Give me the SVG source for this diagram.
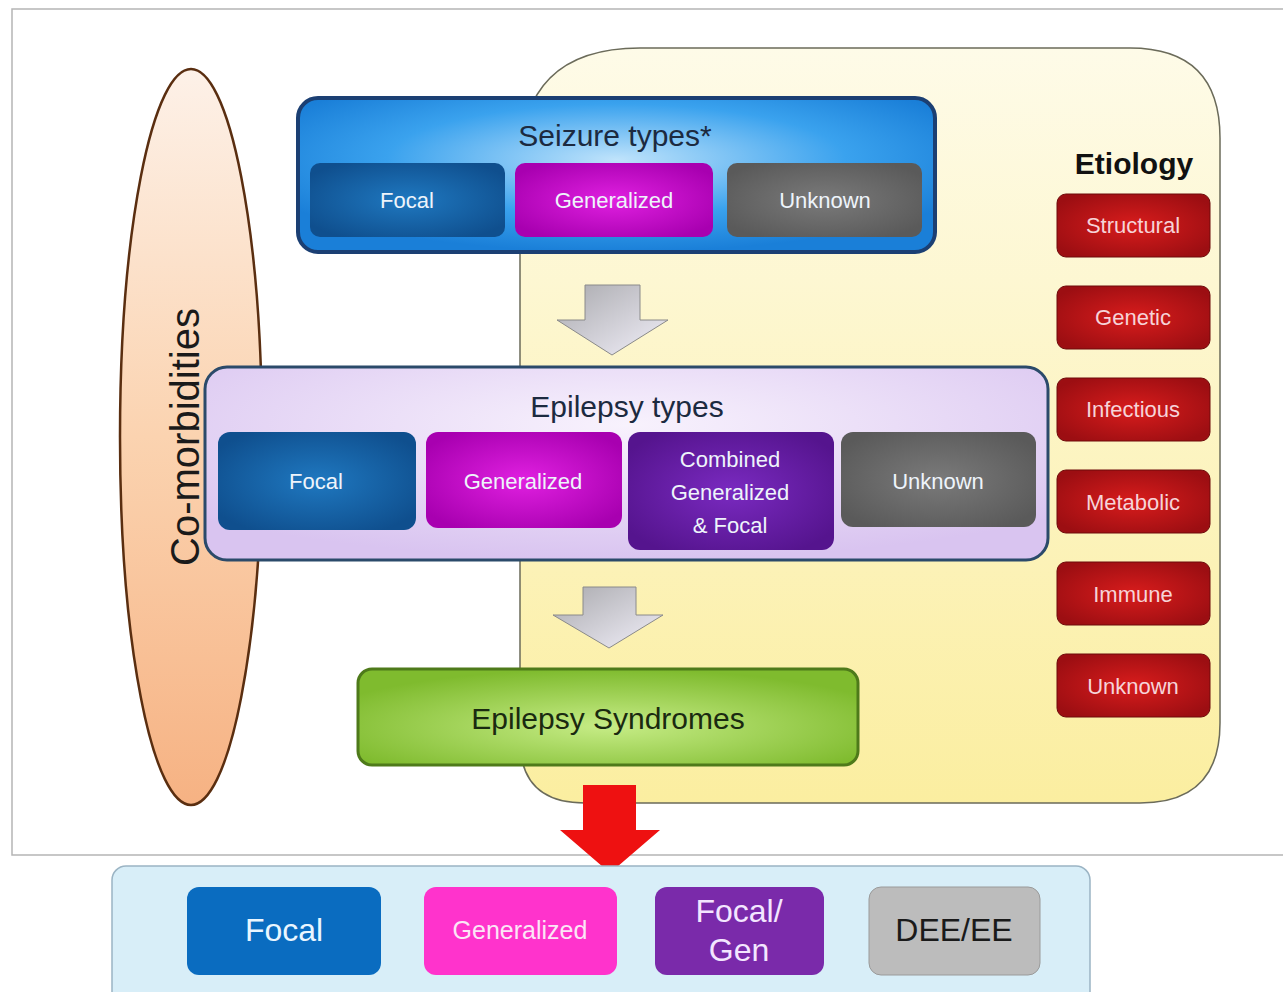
<svg xmlns="http://www.w3.org/2000/svg" width="1283" height="992" viewBox="0 0 1283 992">
<style>
text{font-family:"Liberation Sans",Arial,sans-serif;text-anchor:middle;dominant-baseline:central}
.w{fill:#eef4fb;font-size:22px}
.p{fill:#f6d3d8;font-size:22px}
.t{fill:#1c2a40;font-size:30px}
</style>
<defs>
<linearGradient id="gYel" x1="0" y1="0" x2="0" y2="1"><stop offset="0" stop-color="#fefbe8"/><stop offset="1" stop-color="#fbeea0"/></linearGradient>
<linearGradient id="gPeach" x1="0" y1="0" x2="0" y2="1"><stop offset="0" stop-color="#fdf1e8"/><stop offset="0.5" stop-color="#fbd3b0"/><stop offset="1" stop-color="#f6b283"/></linearGradient>
<radialGradient id="gBlueBig" cx="0.5" cy="0.4" r="0.6"><stop offset="0" stop-color="#bfe3fb"/><stop offset="0.6" stop-color="#3aa2ee"/><stop offset="1" stop-color="#1a7fd8"/></radialGradient>
<radialGradient id="gLav" cx="0.5" cy="0.3" r="0.7"><stop offset="0" stop-color="#f8f2fd"/><stop offset="1" stop-color="#d9c4f0"/></radialGradient>
<radialGradient id="gFocal" cx="0.5" cy="0.5" r="0.6"><stop offset="0" stop-color="#1f78c0"/><stop offset="1" stop-color="#0f4f8e"/></radialGradient>
<radialGradient id="gGen" cx="0.5" cy="0.5" r="0.6"><stop offset="0" stop-color="#e020e0"/><stop offset="1" stop-color="#a800b0"/></radialGradient>
<radialGradient id="gUnk" cx="0.5" cy="0.5" r="0.6"><stop offset="0" stop-color="#7a7a7a"/><stop offset="1" stop-color="#5a5a5a"/></radialGradient>
<radialGradient id="gComb" cx="0.5" cy="0.5" r="0.6"><stop offset="0" stop-color="#7a2ac0"/><stop offset="1" stop-color="#55148e"/></radialGradient>
<radialGradient id="gRed" cx="0.5" cy="0.5" r="0.6"><stop offset="0" stop-color="#d81c1c"/><stop offset="1" stop-color="#9c0e12"/></radialGradient>
<radialGradient id="gGreen" cx="0.5" cy="0.6" r="0.6"><stop offset="0" stop-color="#c6ec86"/><stop offset="1" stop-color="#7fbb2e"/></radialGradient>
<linearGradient id="gArrow" x1="0" y1="0" x2="1" y2="1"><stop offset="0" stop-color="#a9a9ad"/><stop offset="1" stop-color="#f2f0fa"/></linearGradient>
</defs>

<rect x="12" y="9" width="1290" height="846" fill="#ffffff" stroke="#b5b5b5" stroke-width="1.5"/>

<g id="etiology-region">
<path d="M520 740 L520 168 Q520 48 640 48 L1130 48 Q1220 48 1220 138 L1220 723 Q1220 803 1140 803 L585 803 Q520 803 520 740 Z" fill="url(#gYel)" stroke="#6b6b5a" stroke-width="1.5"/>
</g>

<g id="comorbidities">
<ellipse cx="191" cy="437" rx="71" ry="368" fill="url(#gPeach)" stroke="#5a2e10" stroke-width="2.5"/>
<text x="185" y="437" transform="rotate(-90 185 437)" font-size="40" fill="#1a1a1a">Co-morbidities</text>
</g>

<g id="seizure-types">
<rect x="298" y="98" width="637" height="154" rx="20" fill="url(#gBlueBig)" stroke="#1b3f73" stroke-width="4"/>
<text class="t" x="615" y="135">Seizure types*</text>
<g id="sz-focal"><rect x="310" y="163" width="195" height="74" rx="10" fill="url(#gFocal)"/><text class="w" x="407" y="200">Focal</text></g>
<g id="sz-generalized"><rect x="515" y="163" width="198" height="74" rx="10" fill="url(#gGen)"/><text class="w" x="614" y="200">Generalized</text></g>
<g id="sz-unknown"><rect x="727" y="163" width="195" height="74" rx="10" fill="url(#gUnk)"/><text class="w" x="825" y="200">Unknown</text></g>
</g>

<g id="epilepsy-types">
<rect x="205" y="367" width="843" height="193" rx="22" fill="url(#gLav)" stroke="#2b4a6a" stroke-width="3"/>
<text class="t" x="627" y="406">Epilepsy types</text>
<g id="ep-focal"><rect x="218" y="432" width="198" height="98" rx="12" fill="url(#gFocal)"/><text class="w" x="316" y="481">Focal</text></g>
<g id="ep-generalized"><rect x="426" y="432" width="196" height="96" rx="12" fill="url(#gGen)"/><text class="w" x="523" y="481">Generalized</text></g>
<g id="ep-combined"><rect x="628" y="432" width="206" height="118" rx="12" fill="url(#gComb)"/><text class="w" x="730" y="459">Combined</text><text class="w" x="730" y="492">Generalized</text><text class="w" x="730" y="525">&amp; Focal</text></g>
<g id="ep-unknown"><rect x="841" y="432" width="195" height="95" rx="12" fill="url(#gUnk)"/><text class="w" x="938" y="481">Unknown</text></g>
</g>

<g id="epilepsy-syndromes">
<rect x="358" y="669" width="500" height="96" rx="14" fill="url(#gGreen)" stroke="#4e7a1a" stroke-width="3"/>
<text x="608" y="718" font-size="30" fill="#1a2a10">Epilepsy Syndromes</text>
</g>

<g id="etiology">
<text x="1134" y="163" font-size="30" font-weight="bold" fill="#111">Etiology</text>
<g id="et-structural"><rect x="1057" y="194" width="153" height="63" rx="9" fill="url(#gRed)" stroke="#6e0a0a"/><text class="p" x="1133" y="225">Structural</text></g>
<g id="et-genetic"><rect x="1057" y="286" width="153" height="63" rx="9" fill="url(#gRed)" stroke="#6e0a0a"/><text class="p" x="1133" y="317">Genetic</text></g>
<g id="et-infectious"><rect x="1057" y="378" width="153" height="63" rx="9" fill="url(#gRed)" stroke="#6e0a0a"/><text class="p" x="1133" y="409">Infectious</text></g>
<g id="et-metabolic"><rect x="1057" y="470" width="153" height="63" rx="9" fill="url(#gRed)" stroke="#6e0a0a"/><text class="p" x="1133" y="502">Metabolic</text></g>
<g id="et-immune"><rect x="1057" y="562" width="153" height="63" rx="9" fill="url(#gRed)" stroke="#6e0a0a"/><text class="p" x="1133" y="594">Immune</text></g>
<g id="et-unknown"><rect x="1057" y="654" width="153" height="63" rx="9" fill="url(#gRed)" stroke="#6e0a0a"/><text class="p" x="1133" y="686">Unknown</text></g>
</g>

<g id="connectors">
<path d="M585 285 L640 285 L640 320 L668 320 L612 355 L557 320 L585 320 Z" fill="url(#gArrow)" stroke="#8a8a8a" stroke-width="1"/>
<path d="M583 587 L636 587 L636 615 L663 615 L609 648 L553 615 L583 615 Z" fill="url(#gArrow)" stroke="#8a8a8a" stroke-width="1"/>
<path d="M583 785 L636 785 L636 830 L660 830 L610 873 L560 830 L583 830 Z" fill="#ee1111"/>
</g>

<g id="outcomes">
<rect x="112" y="866" width="978" height="140" rx="14" fill="#d8eef8" stroke="#9bb4c4" stroke-width="1.5"/>
<g id="out-focal"><rect x="187" y="887" width="194" height="88" rx="12" fill="#0a6cc0"/><text x="284" y="930" font-size="32" fill="#eaf6ff">Focal</text></g>
<g id="out-generalized"><rect x="424" y="887" width="193" height="88" rx="12" fill="#ff33cc"/><text x="520" y="930" font-size="25" fill="#fbe6f6">Generalized</text></g>
<g id="out-focalgen"><rect x="655" y="887" width="169" height="88" rx="12" fill="#7a2aaa"/><text x="739" y="911" font-size="32" fill="#f3e6ff">Focal/</text><text x="739" y="950" font-size="32" fill="#f3e6ff">Gen</text></g>
<g id="out-dee"><rect x="869" y="887" width="171" height="88" rx="12" fill="#bcbcbc" stroke="#9a9a9a"/><text x="954" y="930" font-size="32" fill="#1a1a1a">DEE/EE</text></g>
</g>
</svg>
